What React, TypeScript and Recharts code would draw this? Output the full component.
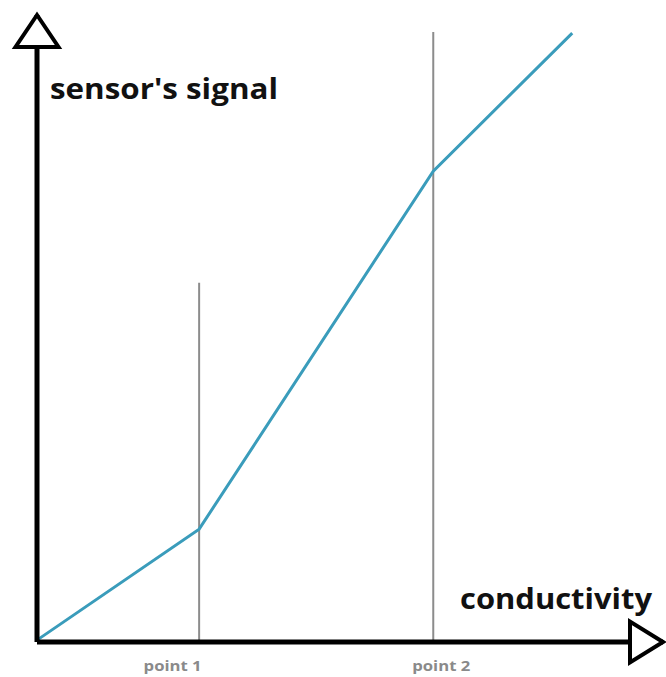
import { LineChart, Line, XAxis, YAxis, ReferenceLine, ReferenceDot, Label } from "recharts";

// values (x: conductivity 0-100, y: signal 0-100)
const conductivity = [0, 25.9, 63.3, 85.5];
const signal = [0.3, 18.0, 75.1, 97.1];

const pointNames = ["point 1", "point 2"];
const pointX = [25.9, 63.3];
const pointTop = [57.3, 97.3];
// hand placed labels sit a little off their lines
const pointLabelShift = [-26.5, 8];

const data = conductivity.map((c, i) => ({ c, s: signal[i] }));

const FONT = "'Open Sans', sans-serif";

const YArrow = (props: any) => {
  const { cx, cy } = props;
  return (
    <polygon
      points={`${cx},${cy} ${cx - 21.5},${cy + 32} ${cx + 21.5},${cy + 32}`}
      fill="#fff"
      stroke="#000"
      strokeWidth={4}
      strokeLinejoin="miter"
    />
  );
};

const XArrow = (props: any) => {
  const { cx, cy } = props;
  return (
    <polygon
      points={`${cx},${cy} ${cx - 33},${cy - 20.5} ${cx - 33},${cy + 20.5}`}
      fill="#fff"
      stroke="#000"
      strokeWidth={4}
      strokeLinejoin="miter"
    />
  );
};

const PointTick = (props: any) => {
  const { x, y, payload, index } = props;
  return (
    <text
      x={x + pointLabelShift[index]}
      y={y + 21}
      textAnchor="middle"
      fontFamily={FONT}
      fontWeight={700}
      fontSize={14}
      fill="#8a8a8a"
      textLength={58}
      lengthAdjust="spacingAndGlyphs"
    >
      {pointNames[pointX.indexOf(payload.value)]}
    </text>
  );
};

export default function App() {
  return (
    <div style={{ position: "absolute", left: 0, top: 0, background: "#fff" }}>
      <LineChart
        width={666}
        height={677}
        data={data}
        margin={{ top: 15, right: 3, bottom: 0, left: 36 }}
      >
        <XAxis
          dataKey="c"
          type="number"
          domain={[0, 100]}
          ticks={pointX}
          tick={<PointTick />}
          tickLine={false}
          height={35}
          axisLine={{ stroke: "#000", strokeWidth: 5 }}
        >
          <Label
            content={(p: any) => {
              const vb = p.viewBox;
              return (
                <text
                  x={vb.x + vb.width - 11}
                  y={vb.y - 33}
                  textAnchor="end"
                  fontFamily={FONT}
                  fontWeight={700}
                  fontSize={29}
                  fill="#111"
                  textLength={192}
                  lengthAdjust="spacingAndGlyphs"
                >
                  conductivity
                </text>
              );
            }}
          />
        </XAxis>
        <YAxis
          type="number"
          domain={[0, 100]}
          width={1}
          tick={false}
          tickLine={false}
          axisLine={{ stroke: "#000", strokeWidth: 5 }}
        >
          <Label
            content={(p: any) => {
              const vb = p.viewBox;
              return (
                <text
                  x={vb.x + vb.width + 13}
                  y={vb.y + 84}
                  fontFamily={FONT}
                  fontWeight={700}
                  fontSize={29}
                  fill="#111"
                  textLength={228}
                  lengthAdjust="spacingAndGlyphs"
                >
                  sensor's signal
                </text>
              );
            }}
          />
        </YAxis>
        {pointX.map((px, i) => (
          <ReferenceLine
            key={pointNames[i]}
            segment={[
              { x: px, y: 0 },
              { x: px, y: pointTop[i] },
            ]}
            stroke="#8c8c8c"
            strokeWidth={2}
            ifOverflow="visible"
          />
        ))}
        <Line
          type="linear"
          dataKey="s"
          stroke="#3a9cbb"
          strokeWidth={3}
          dot={false}
          isAnimationActive={false}
        />
        <ReferenceDot x={0} y={100} ifOverflow="visible" shape={<YArrow />} />
        <ReferenceDot x={100} y={0} ifOverflow="visible" shape={<XArrow />} />
      </LineChart>
    </div>
  );
}
